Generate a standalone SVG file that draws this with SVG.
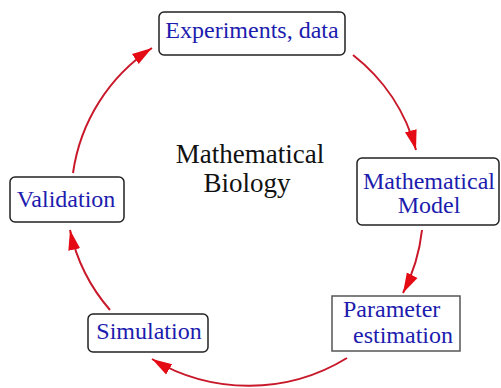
<svg xmlns="http://www.w3.org/2000/svg" width="501" height="388" viewBox="0 0 501 388">
<style>
.box{fill:#fff;stroke:#222;stroke-width:1.5}
.lbl{font-family:"Liberation Serif","Times New Roman",serif;font-size:24px;fill:#1c1cae;text-anchor:middle}
.ctr{font-family:"Liberation Serif","Times New Roman",serif;font-size:27px;fill:#111;text-anchor:middle}
.arc{fill:none;stroke:#c8182a;stroke-width:2}
</style>
<defs>
<marker id="ah" markerUnits="userSpaceOnUse" markerWidth="22" markerHeight="14" refX="20" refY="6" orient="auto" viewBox="0 0 22 12">
<path d="M0,0 L20,6 L0,12 Z" fill="#e50b14"/>
</marker>
</defs>
<rect width="501" height="388" fill="#fff"/>
<g id="connectors">
<path class="arc" d="M353,55 A180,180 0 0 1 416,150" marker-end="url(#ah)"/>
<path class="arc" d="M422,230 A180,180 0 0 1 403,293" marker-end="url(#ah)"/>
<path class="arc" d="M347,358 A188,188 0 0 1 152,359" marker-end="url(#ah)"/>
<path class="arc" d="M110,310 A180,180 0 0 1 70,230" marker-end="url(#ah)"/>
<path class="arc" d="M73,173 A180,180 0 0 1 152,48" marker-end="url(#ah)"/>
</g>
<g id="experiments">
<rect class="box" x="159" y="12" width="186" height="43" rx="5"/>
<text class="lbl" x="252" y="38">Experiments, data</text>
</g>
<g id="model">
<rect class="box" x="357" y="158" width="142" height="67" rx="5"/>
<text class="lbl" x="429" y="189">Mathematical</text>
<text class="lbl" x="429" y="213">Model</text>
</g>
<g id="parameter">
<rect class="box" x="332" y="296" width="128" height="55" style="stroke:#555"/>
<text class="lbl" x="343" y="317" style="text-anchor:start">Parameter</text>
<text class="lbl" x="353" y="343" style="text-anchor:start">estimation</text>
</g>
<g id="simulation">
<rect class="box" x="88" y="314" width="120" height="38" rx="5"/>
<text class="lbl" x="149" y="339">Simulation</text>
</g>
<g id="validation">
<rect class="box" x="10" y="177" width="114" height="45" rx="5"/>
<text class="lbl" x="66" y="207">Validation</text>
</g>
<g id="center">
<text class="ctr" x="250" y="163">Mathematical</text>
<text class="ctr" x="247" y="192">Biology</text>
</g>
</svg>
